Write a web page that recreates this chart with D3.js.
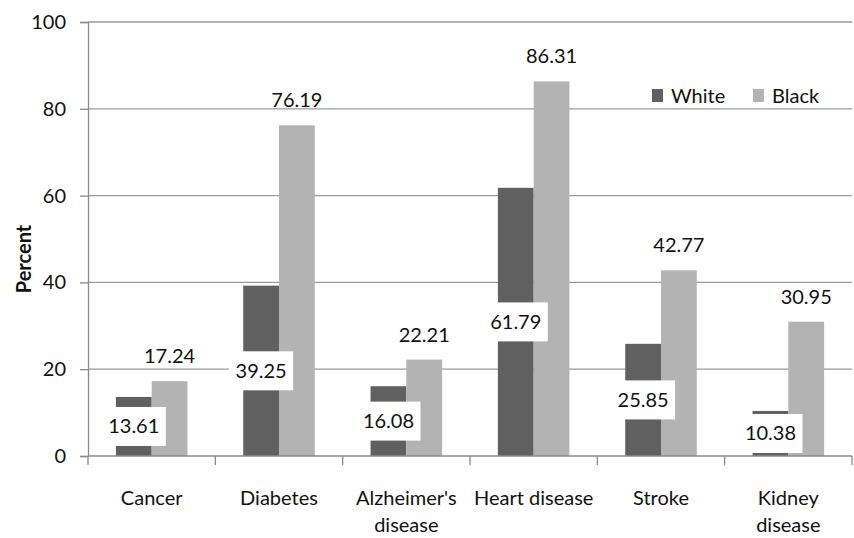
<!DOCTYPE html>
<html>
<head>
<meta charset="utf-8">
<script src="https://cdn.jsdelivr.net/npm/d3@7"></script>
<style>
  html, body { margin: 0; padding: 0; background: #fff; }
  svg text { font-family: Lato, "Open Sans", sans-serif; fill: #111; }
</style>
</head>
<body>
<svg id="chart" width="854" height="538"></svg>
<script>
// Categories (second line of each label wraps at "|")
const categories = ["Cancer", "Diabetes", "Alzheimer's|disease", "Heart disease", "Stroke", "Kidney|disease"];
const seriesNames = ["White", "Black"];
const whiteValues = [13.61, 39.25, 16.08, 61.79, 25.85, 10.38];
const blackValues = [17.24, 76.19, 22.21, 86.31, 42.77, 30.95];
const yTicks = [0, 20, 40, 60, 80, 100];

const colors = { White: "#606060", Black: "#b3b3b3" };
const FONT = 20;

const svg = d3.select("#chart");
const margin = { left: 88, right: 2, top: 22, bottom: 82 };
const W = 854, H = 538;

const x = d3.scaleBand()
  .domain(categories)
  .range([margin.left, W - margin.right])
  .paddingInner(0.438)
  .paddingOuter(0.219);

const xSub = d3.scaleBand().domain(seriesNames).range([0, x.bandwidth()]);

const y = d3.scaleLinear().domain([0, 100]).range([H - margin.bottom, margin.top]);

// Horizontal gridlines
svg.append("g")
  .selectAll("line")
  .data(yTicks.filter(t => t > 0))
  .join("line")
  .attr("x1", margin.left).attr("x2", W - margin.right)
  .attr("y1", d => y(d)).attr("y2", d => y(d))
  .attr("stroke", "#9a9a9a").attr("stroke-width", 1.3);

// Bars
const rows = categories.map((c, i) => ({ cat: c, White: whiteValues[i], Black: blackValues[i] }));
const groups = svg.append("g").selectAll("g")
  .data(rows).join("g")
  .attr("transform", d => `translate(${x(d.cat)},0)`);

groups.selectAll("rect")
  .data(d => seriesNames.map(s => ({ s, v: d[s] })))
  .join("rect")
  .attr("x", d => xSub(d.s))
  .attr("width", xSub.bandwidth())
  .attr("y", d => y(d.v))
  .attr("height", d => y(0) - y(d.v))
  .attr("fill", d => colors[d.s]);

// Y axis
const yAxis = d3.axisLeft(y).tickValues(yTicks).tickSize(8).tickPadding(14).tickFormat(d3.format("d"));
const gy = svg.append("g").attr("transform", `translate(${margin.left},0)`).call(yAxis);
gy.select(".domain").attr("stroke", "#8a8a8a").attr("stroke-width", 1.3);
gy.selectAll(".tick line").attr("stroke", "#8a8a8a").attr("stroke-width", 1.3);
gy.selectAll(".tick text").attr("font-size", FONT).attr("fill", "#111")
  .style("font-family", 'Lato, "Open Sans", sans-serif');

// X axis baseline and category separators
const gx = svg.append("g");
gx.append("line")
  .attr("x1", margin.left).attr("x2", W - margin.right)
  .attr("y1", y(0)).attr("y2", y(0))
  .attr("stroke", "#8a8a8a").attr("stroke-width", 1.3);
const step = x.step();
const bounds = d3.range(categories.length + 1).map(i => margin.left + i * step);
gx.selectAll("line.sep")
  .data(bounds).join("line").attr("class", "sep")
  .attr("x1", d => d).attr("x2", d => d)
  .attr("y1", y(0)).attr("y2", y(0) + 9)
  .attr("stroke", "#8a8a8a").attr("stroke-width", 1.3);

// Category labels
gx.selectAll("text.cat")
  .data(categories).join("text").attr("class", "cat")
  .attr("text-anchor", "middle")
  .attr("font-size", FONT)
  .each(function (d) {
    const t = d3.select(this);
    const cx = x(d) + x.bandwidth() / 2;
    d.split("|").forEach((line, i) => {
      t.append("tspan").attr("x", cx).attr("y", 505 + i * 27).text(line);
    });
  });

// Y axis title
svg.append("text")
  .attr("transform", `translate(31,259) rotate(-90)`)
  .attr("text-anchor", "middle")
  .attr("font-size", 20)
  .attr("font-weight", "bold")
  .text("Percent");

// Value labels: White inside bar (centered, white box), Black above bar
rows.forEach(d => {
  const cxW = x(d.cat) + xSub("White") + xSub.bandwidth() / 2;
  const cyW = y(d.White / 2);
  const g = svg.append("g");
  const txt = g.append("text")
    .attr("x", cxW).attr("y", cyW + 7)
    .attr("text-anchor", "middle")
    .attr("font-size", FONT)
    .text(d.White.toFixed(2));
  const bb = txt.node().getBBox();
  g.insert("rect", "text")
    .attr("x", bb.x - 6.5).attr("y", cyW - 19.5)
    .attr("width", bb.width + 13).attr("height", 39)
    .attr("fill", "#fff");

  const cxB = x(d.cat) + xSub("Black") + xSub.bandwidth() / 2;
  svg.append("text")
    .attr("x", cxB).attr("y", y(d.Black) - 18)
    .attr("text-anchor", "middle")
    .attr("font-size", FONT)
    .text(d.Black.toFixed(2));
});

// Legend
const legend = svg.append("g");
const legendItems = [
  { s: "White", x: 652 },
  { s: "Black", x: 753 }
];
legendItems.forEach(it => {
  legend.append("rect").attr("x", it.x).attr("y", 89).attr("width", 11).attr("height", 13)
    .attr("fill", colors[it.s]);
  legend.append("text").attr("x", it.x + 19).attr("y", 103)
    .attr("font-size", FONT).text(it.s);
});
</script>
</body>
</html>
